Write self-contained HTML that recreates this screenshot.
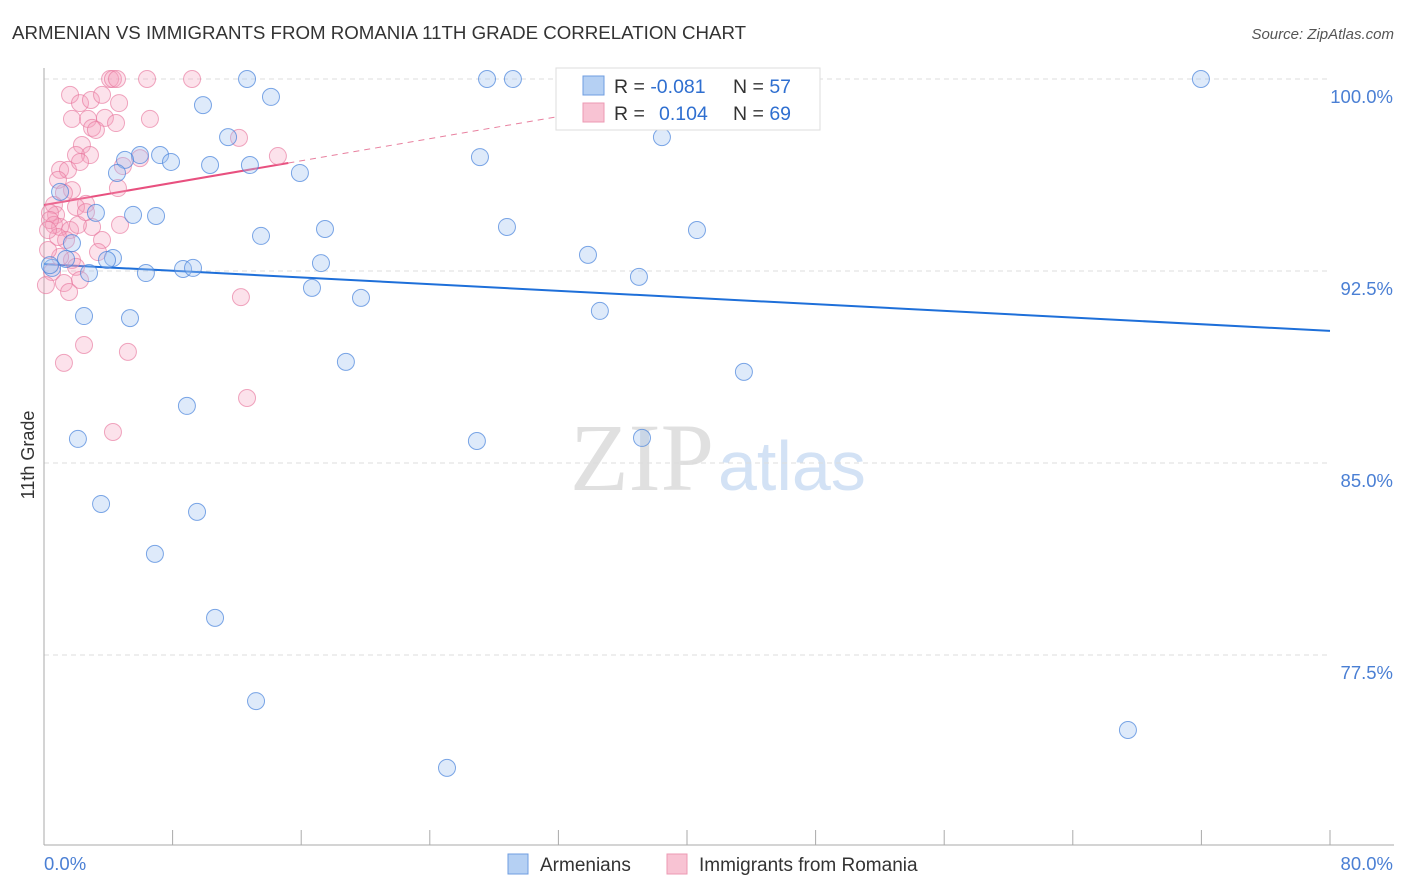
<!DOCTYPE html>
<html><head><meta charset="utf-8"><style>
body{margin:0;background:#fff;font-family:"Liberation Sans",sans-serif}
svg{display:block}
</style></head><body>
<svg id="chart" width="1406" height="892" xmlns="http://www.w3.org/2000/svg">
<text x="12" y="39" font-size="18.7" fill="#333">ARMENIAN VS IMMIGRANTS FROM ROMANIA 11TH GRADE CORRELATION CHART</text>
<text x="1394" y="39" font-size="15" fill="#555" font-style="italic" text-anchor="end">Source: ZipAtlas.com</text>
<text x="714" y="490" font-size="96" font-family="Liberation Serif,serif" fill="#e0e0e0" text-anchor="end">ZIP</text>
<text x="718" y="490" font-size="70" fill="#d3e2f5">atlas</text>
<text transform="translate(34,455) rotate(-90)" font-size="18" fill="#333" text-anchor="middle">11th Grade</text>
<g id="grid"></g><g id="axes"></g><g id="lines"></g><g id="pts"></g>
<g>
<rect x="556" y="68" width="264" height="62" fill="#fff" stroke="#ddd"/>
<rect x="583" y="76" width="21" height="19" fill="#b5d0f3" stroke="#6f9ee0"/>
<rect x="583" y="103" width="21" height="19" fill="#f8c3d3" stroke="#ec9ab3"/>
<text x="614" y="93" font-size="19.5" fill="#333">R = <tspan fill="#2f6fd0">-0.081</tspan><tspan x="733">N = </tspan><tspan fill="#2f6fd0">57</tspan></text>
<text x="614" y="120" font-size="19.5" fill="#333">R = <tspan x="659" fill="#2f6fd0">0.104</tspan><tspan x="733">N = </tspan><tspan fill="#2f6fd0">69</tspan></text>
</g>
<g>
<rect x="508" y="854" width="20" height="20" fill="#b5d0f3" stroke="#6f9ee0"/>
<text x="540" y="871" font-size="19" fill="#333">Armenians</text>
<rect x="667" y="854" width="20" height="20" fill="#f8c3d3" stroke="#ec9ab3"/>
<text x="699" y="871" font-size="19" fill="#333">Immigrants from Romania</text>
</g>
</svg>
<script>
const yTicks=[100,92.5,85,77.5];
const yTickLabels=["100.0%","92.5%","85.0%","77.5%"];
const xTickLabels=["0.0%","80.0%"];
const blueX=[12.63,27.56,29.17,32.78,71.97,9.89,14.12,11.45,38.44,5.97,7.22,5.04,7.90,10.33,12.81,4.54,15.92,27.12,1.00,3.23,5.54,6.97,17.48,28.80,40.62,13.50,1.74,4.29,3.92,1.37,17.23,33.84,6.34,8.65,9.27,2.80,0.50,37.01,16.67,19.72,34.58,2.49,5.35,18.78,43.54,8.89,2.11,26.93,37.20,3.55,9.52,6.90,10.64,13.19,67.43,25.07,0.37];
const blueY=[100,100,100,100,100,98.98,99.30,97.73,97.73,97.03,97.03,96.84,96.76,96.64,96.64,96.33,96.33,96.95,95.59,94.77,94.69,94.65,94.14,94.22,94.10,93.87,93.59,93.01,92.93,92.97,92.81,93.13,92.42,92.58,92.62,92.42,92.62,92.27,91.84,91.45,90.94,90.74,90.66,88.95,88.56,87.23,85.94,85.86,85.98,83.40,83.09,81.45,78.95,75.70,74.57,73.09,92.73];
const pinkX=[4.11,4.29,4.54,6.41,9.21,1.62,2.24,2.92,3.61,4.67,1.74,2.74,3.79,4.48,6.59,2.99,3.23,12.13,2.36,2.86,1.99,5.97,4.91,14.55,1.00,1.49,2.24,0.87,1.74,1.24,4.60,0.62,0.75,2.61,1.99,0.37,0.62,1.00,1.62,2.99,2.11,4.73,1.37,3.61,3.36,1.74,1.99,1.00,0.25,0.50,0.12,1.24,1.56,2.24,12.25,2.49,5.22,1.24,12.63,4.29,0.37,0.87,2.61,0.25];
const pinkY=[100,100,100,100,100,99.38,99.06,99.18,99.38,99.06,98.44,98.44,98.48,98.28,98.44,98.09,98.01,97.70,97.42,97.03,97.03,96.91,96.60,96.99,96.45,96.45,96.76,96.06,95.66,95.55,95.74,95.08,94.69,95.12,95.00,94.77,94.30,94.22,94.10,94.22,94.30,94.30,93.71,93.71,93.24,92.93,92.66,93.05,93.32,92.46,91.95,92.03,91.68,92.15,91.48,89.61,89.34,88.91,87.54,86.21,94.49,93.83,94.80,94.10];
const blueTrend=[92.77,90.16];
const pinkTrend=[95.08,96.72];
const NS="http://www.w3.org/2000/svg";
const X=v=>44+v/80*1286, Y=v=>79+(100-v)*25.6;
function mk(tag,attrs,parent){const e=document.createElementNS(NS,tag);for(const k in attrs)e.setAttribute(k,attrs[k]);document.getElementById(parent).appendChild(e);return e;}
yTicks.forEach((t,i)=>{
 const l=mk('line',{x1:44,x2:1330,y1:Y(t),y2:Y(t),stroke:'#ddd','stroke-dasharray':'5,4'},'grid');
 
 
 const tx=mk('text',{x:1393,y:Y(t)+24,'font-size':18.5,fill:'#4a7fd4','text-anchor':'end'},'grid');
 tx.textContent=yTickLabels[i];
 
 
});
const ax=mk('line',{x1:44,x2:44,y1:68,y2:845,stroke:'#aaa'},'axes');


const bx=mk('line',{x1:44,x2:1394,y1:845,y2:845,stroke:'#aaa'},'axes');


for(let i=1;i<=10;i++){const t=mk('line',{x1:X(i*8),x2:X(i*8),y1:830,y2:845,stroke:'#aaa'},'axes');
 
 }
const xl0=mk('text',{x:44,y:870,'font-size':18.5,fill:'#4a7fd4'},'axes');xl0.textContent=xTickLabels[0];


const xl1=mk('text',{x:1393,y:870,'font-size':18.5,fill:'#4a7fd4','text-anchor':'end'},'axes');xl1.textContent=xTickLabels[1];


pinkX.forEach((v,i)=>{const c=mk('circle',{cx:X(v),cy:Y(pinkY[i]),r:8.5,fill:'rgba(244,160,188,0.3)',stroke:'rgba(232,120,158,0.65)','stroke-width':1},'pts');
 
 });
blueX.forEach((v,i)=>{const c=mk('circle',{cx:X(v),cy:Y(blueY[i]),r:8.5,fill:'rgba(160,195,240,0.35)',stroke:'rgba(70,130,220,0.7)','stroke-width':1},'pts');
 
 });
const bl=mk('line',{x1:X(0),y1:Y(blueTrend[0]),x2:X(80),y2:Y(blueTrend[1]),stroke:'#1e6fd9','stroke-width':2},'lines');


const ps=(pinkTrend[1]-pinkTrend[0])/15.2;
const pl=mk('line',{x1:X(0),y1:Y(pinkTrend[0]),x2:X(15.2),y2:Y(pinkTrend[1]),stroke:'#e8507f','stroke-width':2},'lines');


const pd=mk('line',{x1:X(15.2),y1:Y(pinkTrend[1]),x2:X(40),y2:Y(pinkTrend[0]+ps*40),stroke:'#e8809f','stroke-width':1,'stroke-dasharray':'6,5'},'lines');


</script>
</body></html>
